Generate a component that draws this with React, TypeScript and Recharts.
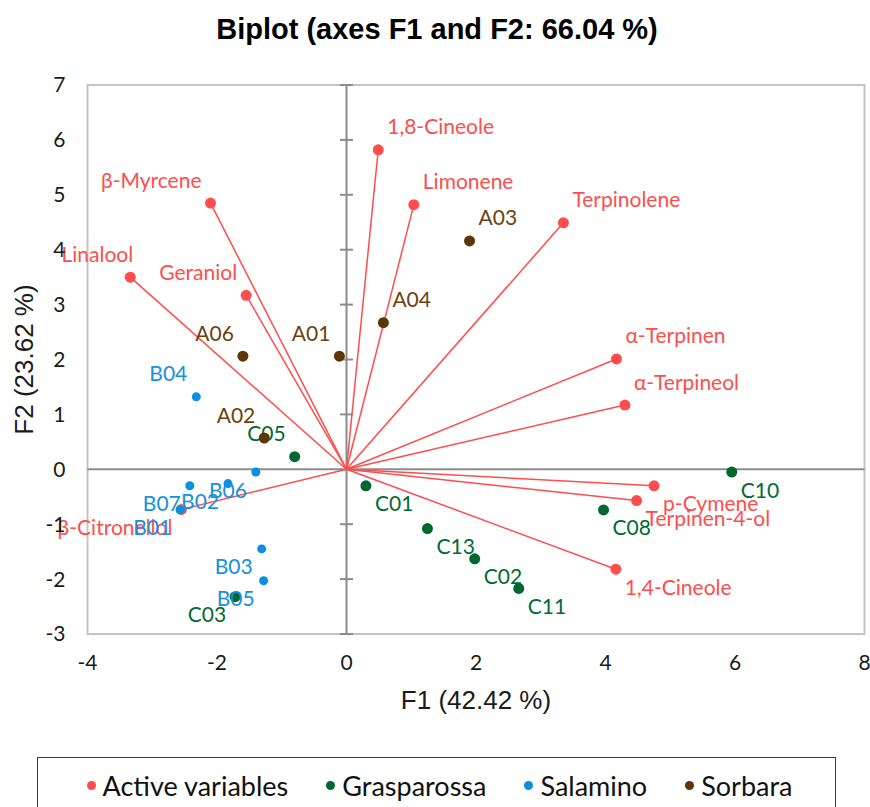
import React from "react";
import {
  ScatterChart,
  Scatter,
  XAxis,
  YAxis,
  ReferenceLine,
  ReferenceArea,
  Label,
} from "recharts";

type Pt = { name: string; x: number; y: number };

// Loadings of the active variables on F1 / F2
const activeVariables: Pt[] = [
  { name: "1,8-Cineole", x: 0.49, y: 5.82 },
  { name: "Limonene", x: 1.04, y: 4.82 },
  { name: "Terpinolene", x: 3.35, y: 4.49 },
  { name: "α-Terpinen", x: 4.17, y: 2.01 },
  { name: "α-Terpineol", x: 4.3, y: 1.17 },
  { name: "p-Cymene", x: 4.75, y: -0.3 },
  { name: "Terpinen-4-ol", x: 4.48, y: -0.57 },
  { name: "1,4-Cineole", x: 4.16, y: -1.82 },
  { name: "β-Citronellol", x: -2.55, y: -0.73 },
  { name: "Linalool", x: -3.34, y: 3.5 },
  { name: "β-Myrcene", x: -2.1, y: 4.85 },
  { name: "Geraniol", x: -1.55, y: 3.17 },
];

// Observation scores per cultivar
const grasparossa: Pt[] = [
  { name: "C01", x: 0.3, y: -0.3 },
  { name: "C13", x: 1.25, y: -1.08 },
  { name: "C02", x: 1.98, y: -1.63 },
  { name: "C11", x: 2.66, y: -2.17 },
  { name: "C08", x: 3.97, y: -0.74 },
  { name: "C10", x: 5.95, y: -0.05 },
  { name: "C05", x: -0.8, y: 0.23 },
  { name: "C03", x: -1.72, y: -2.32 },
];

const salamino: Pt[] = [
  { name: "B04", x: -2.32, y: 1.32 },
  { name: "B07", x: -2.42, y: -0.3 },
  { name: "B02", x: -1.83, y: -0.26 },
  { name: "B06", x: -1.4, y: -0.05 },
  { name: "B01", x: -2.57, y: -0.74 },
  { name: "B03", x: -1.31, y: -1.45 },
  { name: "B05", x: -1.28, y: -2.03 },
];

const sorbara: Pt[] = [
  { name: "A03", x: 1.9, y: 4.16 },
  { name: "A04", x: 0.57, y: 2.67 },
  { name: "A01", x: -0.11, y: 2.06 },
  { name: "A06", x: -1.6, y: 2.06 },
  { name: "A02", x: -1.27, y: 0.57 },
];

const xTicks = [-4, -2, 0, 2, 4, 6, 8];
const yTicks = [-3, -2, -1, 0, 1, 2, 3, 4, 5, 6, 7];

// where each point label sits relative to its marker (default: below right)
const upRight = ["1,8-Cineole", "Limonene", "Terpinolene", "α-Terpinen", "α-Terpineol", "A03", "A04"];
const upLeft = ["β-Myrcene", "Geraniol", "Linalool", "A01", "A06", "A02", "B04", "C05"];
const downLeft = ["β-Citronellol", "B07", "B02", "B06", "B01", "B03", "B05", "C03"];
const labelNudge: Record<string, number> = { Linalool: 12 };

const RED = "#ff4d4d";
const GREEN = "#00672f";
const BLUE = "#0b8fdf";
const BROWN = "#5b3609";
const AXIS_GREY = "#8c8c8c";

const series = [
  { name: "Active variables", data: activeVariables, color: RED, text: RED, r: 5.5 },
  { name: "Grasparossa", data: grasparossa, color: GREEN, text: "#006b33", r: 5.5 },
  { name: "Salamino", data: salamino, color: BLUE, text: "#1690e0", r: 4.5 },
  { name: "Sorbara", data: sorbara, color: BROWN, text: "#6a420f", r: 5.5 },
];

const LABEL_FONT = "Lato, 'Open Sans', sans-serif";
const ARIAL = "'Liberation Sans', Arial, sans-serif";

const pointShape = (color: string, textColor: string, r: number) => (props: any) => {
  const { cx, cy, payload } = props;
  const name: string = payload.name;
  const up = upRight.includes(name) || upLeft.includes(name);
  const left = upLeft.includes(name) || downLeft.includes(name);
  const dx = (left ? -9 : 9) + (labelNudge[name] ?? 0);
  const dy = up ? -24 : 17;
  return (
    <g>
      <circle cx={cx} cy={cy} r={r} fill={color} />
      <text
        x={cx + dx}
        y={cy + dy}
        textAnchor={left ? "end" : "start"}
        dominantBaseline="central"
        fill={textColor}
        fontFamily={LABEL_FONT}
        fontSize={21}
      >
        {name}
      </text>
    </g>
  );
};

export default function App() {
  return (
    <div
      style={{
        position: "absolute",
        left: 0,
        top: 0,
        width: 870,
        height: 807,
        overflow: "hidden",
        background: "#fff",
      }}
    >
      <div
        style={{
          position: "absolute",
          top: 12,
          left: 0,
          width: 874,
          textAlign: "center",
          fontFamily: ARIAL,
          fontWeight: "bold",
          fontSize: 29,
          lineHeight: "34px",
          color: "#000",
        }}
      >
        Biplot (axes F1 and F2: 66.04 %)
      </div>

      <ScatterChart
        width={870}
        height={807}
        margin={{ top: 85, right: 5.5, bottom: 125, left: 27.5 }}
      >
        <XAxis
          type="number"
          dataKey="x"
          domain={[-4, 8]}
          ticks={xTicks}
          axisLine={false}
          tickLine={false}
          tickMargin={15}
          height={48}
          tick={{ fontFamily: LABEL_FONT, fontSize: 21, fill: "#1a1a1a" }}
        >
          <Label
            content={(p: any) => (
              <text
                x={p.viewBox.x + p.viewBox.width / 2}
                y={p.viewBox.y + 66}
                textAnchor="middle"
                dominantBaseline="central"
                fontFamily={ARIAL}
                fontSize={26}
                fill="#1a1a1a"
              >
                F1 (42.42 %)
              </text>
            )}
          />
        </XAxis>
        <YAxis
          type="number"
          dataKey="y"
          domain={[-3, 7]}
          ticks={yTicks}
          axisLine={false}
          tickLine={false}
          tickMargin={16}
          width={60}
          tick={{ fontFamily: LABEL_FONT, fontSize: 21, fill: "#1a1a1a" }}
        >
          <Label
            content={(p: any) => {
              const cx = p.viewBox.x - 4;
              const cy = p.viewBox.y + p.viewBox.height / 2;
              return (
                <text
                  x={cx}
                  y={cy}
                  transform={`rotate(-90 ${cx} ${cy})`}
                  textAnchor="middle"
                  dominantBaseline="central"
                  fontFamily={ARIAL}
                  fontSize={26}
                  fill="#1a1a1a"
                >
                  F2 (23.62 %)
                </text>
              );
            }}
          />
        </YAxis>

        <ReferenceArea
          x1={-4}
          x2={8}
          y1={-3}
          y2={7}
          fill="none"
          fillOpacity={0}
          stroke="#c4c4c4"
          strokeWidth={2}
        />
        <ReferenceLine x={0} stroke={AXIS_GREY} strokeWidth={2} />
        <ReferenceLine y={0} stroke={AXIS_GREY} strokeWidth={2} />
        {yTicks
          .filter((t) => t !== 0)
          .map((t) => (
            <ReferenceLine
              key={`tick-${t}`}
              segment={[
                { x: -0.1, y: t },
                { x: 0.1, y: t },
              ]}
              stroke={AXIS_GREY}
              strokeWidth={2}
            />
          ))}

        {/* variable vectors from the origin */}
        {activeVariables.map((v) => (
          <ReferenceLine
            key={v.name}
            segment={[
              { x: 0, y: 0 },
              { x: v.x, y: v.y },
            ]}
            stroke={RED}
            strokeWidth={1.5}
          />
        ))}

        {series.map((s) => (
          <Scatter
            key={s.name}
            name={s.name}
            data={s.data}
            fill={s.color}
            shape={pointShape(s.color, s.text, s.r)}
            isAnimationActive={false}
          />
        ))}
      </ScatterChart>

      {/* legend */}
      <div
        style={{
          position: "absolute",
          left: 37,
          top: 757,
          width: 799,
          height: 70,
          boxSizing: "border-box",
          border: "1.5px solid #3a3a3a",
        }}
      >
        <div
          style={{
            height: 55,
            display: "flex",
            alignItems: "center",
            justifyContent: "center",
            gap: 38,
            paddingLeft: 6,
            fontFamily: LABEL_FONT,
            fontSize: 27,
            color: "#111",
          }}
        >
          {series.map((s) => (
            <div key={s.name} style={{ display: "flex", alignItems: "center" }}>
              <span
                style={{
                  display: "inline-block",
                  width: 9,
                  height: 9,
                  borderRadius: "50%",
                  background: s.color,
                  marginRight: 7,
                }}
              />
              <span>{s.name}</span>
            </div>
          ))}
        </div>
      </div>
    </div>
  );
}
